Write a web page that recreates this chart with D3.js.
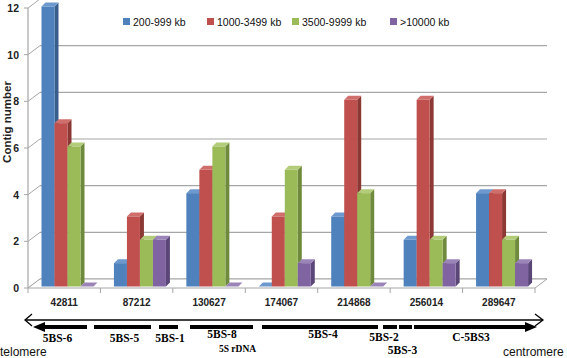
<!DOCTYPE html>
<html>
<head>
<meta charset="utf-8">
<script src="https://cdn.jsdelivr.net/npm/d3@7"></script>
<style>
  body { margin: 0; background: #fff; }
  svg { display: block; }
</style>
</head>
<body>
<div id="chart"></div>
<script>
// Positions along chromosome arm (category labels)
const categories = ["42811", "87212", "130627", "174067", "214868", "256014", "289647"];
const seriesNames = ["200-999 kb", "1000-3499 kb", "3500-9999 kb", ">10000 kb"];
const s200 = [12, 1, 4, 0, 3, 2, 4];
const s1000 = [7, 3, 5, 3, 8, 8, 4];
const s3500 = [6, 2, 6, 5, 4, 2, 2];
const s10000 = [0, 2, 0, 1, 0, 1, 1];
const yTicks = [0, 2, 4, 6, 8, 10, 12];

// bins along the bottom arrow
const binNames = ["5BS-6", "5BS-5", "5BS-1", "5BS-8", "5BS-4", "5BS-2", "5BS-3", "C-5BS3"];

const W = 567, H = 358;
const svg = d3.select("#chart").append("svg").attr("width", W).attr("height", H)
    .style("font-family", "'Liberation Sans', Arial, sans-serif");

const colors = [
    { front: "#4F81BD", side: "#385E8C", top: "#6E99CE" },
    { front: "#C0504D", side: "#8C3835", top: "#D06E6B" },
    { front: "#9BBB59", side: "#6F8A3C", top: "#B2CC7A" },
    { front: "#8064A2", side: "#5B4777", top: "#9B84B8" }
];

// 3D geometry
const wallDx = 12, wallDy = -9;   // floor/back wall offset
const depthX = 4, depthY = -4;    // bar depth

const x = d3.scaleBand().domain(categories).range([28, 535]);
const y = d3.scaleLinear().domain([0, 12]).range([288, 8]);
const xs = d3.scaleBand().domain(seriesNames).range([13.5, 65.5]);

const gridColor = "#a6a6a6";

// back wall gridlines
svg.append("g").selectAll("line").data(yTicks).join("line")
    .attr("x1", 28 + wallDx).attr("x2", 535 + wallDx)
    .attr("y1", d => y(d) + wallDy).attr("y2", d => y(d) + wallDy)
    .attr("stroke", gridColor).attr("stroke-width", 1.2);

// left wall slants
svg.append("g").selectAll("line").data(yTicks).join("line")
    .attr("x1", 28).attr("x2", 28 + wallDx)
    .attr("y1", d => y(d)).attr("y2", d => y(d) + wallDy)
    .attr("stroke", gridColor).attr("stroke-width", 1);

// floor
svg.append("path")
    .attr("d", `M28,${y(0)} L535,${y(0)} L${535 + wallDx},${y(0) + wallDy} L${28 + wallDx},${y(0) + wallDy} Z`)
    .attr("fill", "#fff").attr("stroke", gridColor).attr("stroke-width", 1);

// vertical axis
svg.append("line").attr("x1", 28).attr("x2", 28).attr("y1", y(0)).attr("y2", y(12))
    .attr("stroke", gridColor).attr("stroke-width", 1.2);
svg.append("g").selectAll("line").data(yTicks).join("line")
    .attr("x1", 24).attr("x2", 28).attr("y1", d => y(d)).attr("y2", d => y(d))
    .attr("stroke", gridColor);

svg.append("g").selectAll("text").data(yTicks).join("text")
    .attr("x", 19).attr("y", d => y(d) + 4)
    .attr("text-anchor", "end")
    .attr("font-size", 10.5).attr("font-weight", "bold").attr("fill", "#222")
    .text(d => d);

svg.append("text")
    .attr("transform", "translate(11,122) rotate(-90)")
    .attr("text-anchor", "middle")
    .attr("font-size", 11.5).attr("font-weight", "bold").attr("fill", "#222")
    .text("Contig number");

// category ticks below floor
const bounds = categories.map(c => x(c)).concat([x(categories[categories.length - 1]) + x.bandwidth()]);
svg.append("g").selectAll("line").data(bounds).join("line")
    .attr("x1", d => d).attr("x2", d => d)
    .attr("y1", y(0)).attr("y2", y(0) + 5)
    .attr("stroke", gridColor);

svg.append("g").selectAll("text").data(categories).join("text")
    .attr("x", d => x(d) + x.bandwidth() / 2).attr("y", 306)
    .attr("text-anchor", "middle").attr("font-size", 10).attr("font-weight", "bold").attr("fill", "#222")
    .text(d => d);

// bars
const series = [s200, s1000, s3500, s10000];
const barW = xs.bandwidth();
const base = y(0) - 1.5;
series.forEach((vals, si) => {
    const g = svg.append("g");
    const c = colors[si];
    vals.forEach((v, ci) => {
        const x0 = x(categories[ci]) + xs(seriesNames[si]);
        const top = y(v) - 1.5;
        const h = base - top;
        // side face
        g.append("path")
            .attr("d", `M${x0 + barW},${base} L${x0 + barW + depthX},${base + depthY} L${x0 + barW + depthX},${top + depthY} L${x0 + barW},${top} Z`)
            .attr("fill", c.side);
        // top face
        g.append("path")
            .attr("d", `M${x0},${top} L${x0 + depthX},${top + depthY} L${x0 + barW + depthX},${top + depthY} L${x0 + barW},${top} Z`)
            .attr("fill", c.top);
        if (h > 0.5) {
            g.append("rect")
                .attr("x", x0).attr("y", top).attr("width", barW).attr("height", h)
                .attr("fill", c.front);
        }
    });
});

// legend
const legendX = [123, 207, 292, 390];
const lg = svg.append("g").selectAll("g").data(seriesNames).join("g")
    .attr("transform", (d, i) => `translate(${legendX[i]},22)`);
lg.append("rect").attr("x", 0).attr("y", -4).attr("width", 7).attr("height", 7)
    .attr("fill", (d, i) => colors[i].front);
lg.append("text").attr("x", 10).attr("y", 3.5).attr("font-size", 10.5).attr("fill", "#111")
    .text(d => d);

// bottom arrow with bins
const arrowY = 320, segY = 327;
svg.append("line").attr("x1", 26).attr("x2", 542).attr("y1", arrowY).attr("y2", arrowY)
    .attr("stroke", "#000").attr("stroke-width", 1.3);
svg.append("path").attr("d", `M32,${arrowY - 6} L25,${arrowY} L32,${arrowY + 6}`)
    .attr("fill", "none").attr("stroke", "#000").attr("stroke-width", 1.3);
svg.append("path").attr("d", `M535,${arrowY - 6} L543,${arrowY} L535,${arrowY + 6}`)
    .attr("fill", "none").attr("stroke", "#000").attr("stroke-width", 1.3);

const segStart = [45, 94, 159, 190, 262, 383, 399, 414];
const segEnd = [87, 151, 178, 253, 378, 397, 412, 525];
svg.append("g").selectAll("rect").data(binNames).join("rect")
    .attr("x", (d, i) => segStart[i]).attr("y", segY - 2)
    .attr("width", (d, i) => segEnd[i] - segStart[i]).attr("height", 4)
    .attr("fill", "#000");
svg.append("path").attr("d", `M33,${segY} L45,${segY - 5} L45,${segY + 5} Z`).attr("fill", "#000");
svg.append("path").attr("d", `M537,${segY} L525,${segY - 5} L525,${segY + 5} Z`).attr("fill", "#000");

const binLabelX = [57.5, 124.5, 170, 222, 323, 384, 402.5, 471];
const binLabelY = [342, 342, 342, 338, 338, 341, 354, 341];
svg.append("g").selectAll("text").data(binNames).join("text")
    .attr("x", (d, i) => binLabelX[i]).attr("y", (d, i) => binLabelY[i])
    .attr("text-anchor", "middle")
    .attr("font-family", "'Liberation Serif', 'Times New Roman', serif")
    .attr("font-weight", "bold").attr("font-size", 11.5)
    .text(d => d);
svg.append("text").attr("x", 237.5).attr("y", 351.5).attr("text-anchor", "middle")
    .attr("font-family", "'Liberation Serif', 'Times New Roman', serif")
    .attr("font-weight", "bold").attr("font-size", 9.5)
    .text("5S rDNA");

svg.append("text").attr("x", 0).attr("y", 356).attr("font-size", 12).attr("fill", "#111").text("telomere");
svg.append("text").attr("x", 503).attr("y", 356).attr("font-size", 12).attr("fill", "#111").text("centromere");
</script>
</body>
</html>
